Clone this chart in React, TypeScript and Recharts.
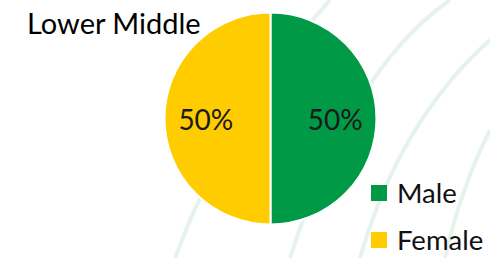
import { PieChart, Pie, Cell, Legend } from "recharts";

const categories = ["Male", "Female"];
const shares = [50, 50];
const colors = ["#009A46", "#FFCC00"];
const title = "Lower Middle";

const pieData = categories.map((name, i) => ({ name, value: shares[i], color: colors[i] }));
const total = shares.reduce((a, b) => a + b, 0);

const FONT = "Lato, 'Open Sans', sans-serif";

const RADIAN = Math.PI / 180;

function renderLabel(props: any) {
  const { cx, cy, midAngle, outerRadius, value } = props;
  const r = outerRadius * 0.61;
  const x = cx + r * Math.cos(-midAngle * RADIAN);
  const y = cy + r * Math.sin(-midAngle * RADIAN);
  return (
    <text
      x={x}
      y={y}
      fill="#1a1a1a"
      fontFamily={FONT}
      fontSize={28}
      textAnchor="middle"
      dominantBaseline="central"
    >
      {`${Math.round((value / total) * 100)}%`}
    </text>
  );
}

// keep legend in data order (Recharts sorts by name otherwise)
function LegendContent() {
  return (
    <div style={{ fontFamily: FONT }}>
      {pieData.map((it, i) => (
        <div
          key={i}
          style={{ display: "flex", alignItems: "center", height: 26, marginBottom: i === 0 ? 21 : 0 }}
        >
          <span style={{ width: 16, height: 16, background: it.color, marginRight: 10, flexShrink: 0 }} />
          <span style={{ fontSize: 27.5, lineHeight: "26px", color: "#111", whiteSpace: "nowrap" }}>{it.name}</span>
        </div>
      ))}
    </div>
  );
}

export default function App() {
  return (
    <div style={{ position: "absolute", left: 0, top: 0, width: 490, height: 258, background: "#fff", overflow: "hidden" }}>
      {/* faint decorative background swooshes */}
      <svg width={490} height={258} style={{ position: "absolute", left: 0, top: 0 }}>
        <g fill="none" stroke="#dcefe6" strokeWidth={4} opacity={0.7}>
          <path d="M 330 0 Q 230 110 175 258" />
          <path d="M 450 0 Q 350 70 290 258" />
          <path d="M 490 40 Q 400 120 360 258" />
          <path d="M 490 130 Q 460 190 445 258" />
        </g>
      </svg>
      <div
        style={{
          position: "absolute",
          left: 27,
          top: 5,
          fontFamily: FONT,
          fontSize: 29,
          color: "#000",
          lineHeight: "36px",
          zIndex: 2,
        }}
      >
        {title}
      </div>
      <div style={{ position: "absolute", left: 0, top: 0 }}>
        <PieChart width={490} height={258} margin={{ top: 0, right: 0, bottom: 0, left: 0 }}>
          <Pie
            data={pieData}
            dataKey="value"
            nameKey="name"
            cx={270.5}
            cy={118.5}
            outerRadius={106}
            startAngle={90}
            endAngle={-270}
            stroke="#fff"
            strokeWidth={2}
            label={renderLabel}
            labelLine={false}
            isAnimationActive={false}
          >
            {pieData.map((d, i) => (
              <Cell key={i} fill={d.color} />
            ))}
          </Pie>
          <Legend
            layout="vertical"
            content={LegendContent}
            wrapperStyle={{ position: "absolute", left: 371, top: 180, width: 119 }}
          />
        </PieChart>
      </div>
    </div>
  );
}
